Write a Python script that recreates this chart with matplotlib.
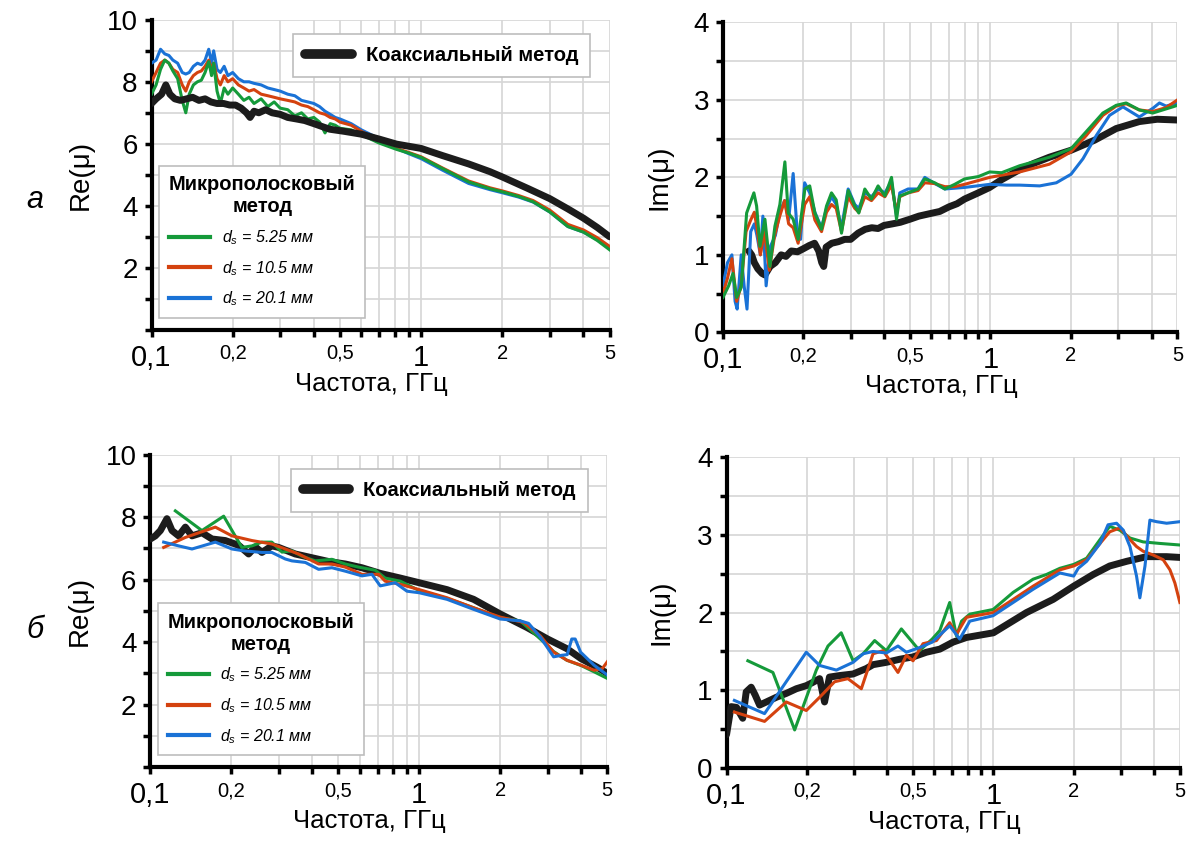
import numpy as np
import matplotlib
matplotlib.use("Agg")
import matplotlib.pyplot as plt
from matplotlib.ticker import FixedLocator, NullLocator

plt.rcParams['font.family'] = ['Liberation Sans', 'DejaVu Sans']
plt.rcParams['mathtext.fontset'] = 'custom'
plt.rcParams['mathtext.rm'] = 'Liberation Sans'
plt.rcParams['mathtext.it'] = 'Liberation Sans:italic'

# ---------------- (а) Re(mu) ----------------
a_re_coax_f = [0.100, 0.104, 0.109, 0.113, 0.117, 0.122, 0.128, 0.135, 0.142, 0.150, 0.158,
               0.166, 0.175, 0.185, 0.195, 0.205, 0.215, 0.225, 0.232, 0.240, 0.250, 0.265,
               0.280, 0.300, 0.320, 0.345, 0.370, 0.400, 0.458, 0.520, 0.600, 0.700, 0.810,
               0.900, 1.000, 1.200, 1.500, 1.800, 2.000, 2.500, 3.000, 3.500, 4.000, 4.500, 5.000]
a_re_coax = [7.30, 7.45, 7.60, 7.90, 7.60, 7.45, 7.40, 7.45, 7.50, 7.40, 7.45,
             7.35, 7.30, 7.30, 7.25, 7.25, 7.15, 7.00, 6.85, 7.05, 7.00, 7.10,
             7.00, 6.95, 6.85, 6.80, 6.75, 6.65, 6.47, 6.40, 6.31, 6.15, 5.99,
             5.92, 5.85, 5.62, 5.35, 5.10, 4.93, 4.55, 4.23, 3.90, 3.60, 3.30, 3.00]

a_re_f = [0.100, 0.104, 0.108, 0.112, 0.116, 0.120, 0.125, 0.130, 0.134, 0.138, 0.143,
          0.148, 0.153, 0.158, 0.163, 0.167, 0.170, 0.175, 0.180, 0.186, 0.192, 0.200,
          0.210, 0.220, 0.230, 0.240, 0.255, 0.270, 0.285, 0.300, 0.320, 0.340, 0.360,
          0.380, 0.400, 0.420, 0.440, 0.460, 0.480, 0.500, 0.550, 0.600, 0.650, 0.700,
          0.810, 0.900, 1.000, 1.200, 1.500, 1.800, 2.000, 2.300, 2.600, 3.000, 3.500,
          4.000, 4.500, 5.000]
a_re_blue = [8.60, 8.70, 9.05, 8.90, 8.85, 8.70, 8.60, 8.30, 8.25, 8.30, 8.50,
             8.60, 8.55, 8.70, 9.05, 8.60, 9.00, 8.40, 8.30, 8.50, 8.20, 8.30,
             8.10, 8.00, 8.00, 7.95, 7.90, 7.80, 7.75, 7.70, 7.60, 7.55, 7.40,
             7.35, 7.30, 7.20, 7.05, 6.95, 6.85, 6.80, 6.65, 6.45, 6.30, 6.15,
             5.85, 5.68, 5.52, 5.15, 4.72, 4.52, 4.42, 4.28, 4.12, 3.80, 3.33,
             3.15, 2.90, 2.62]
a_re_red = [8.00, 8.30, 8.60, 8.70, 8.60, 8.40, 8.30, 7.90, 7.70, 8.00, 8.20,
            8.30, 8.35, 8.50, 8.70, 8.40, 8.60, 8.10, 7.90, 8.20, 8.00, 8.10,
            7.90, 7.80, 7.70, 7.75, 7.60, 7.55, 7.50, 7.45, 7.40, 7.35, 7.25,
            7.20, 7.10, 7.00, 6.95, 6.85, 6.80, 6.70, 6.60, 6.40, 6.25, 6.12,
            5.85, 5.72, 5.58, 5.22, 4.80, 4.58, 4.48, 4.33, 4.17, 3.86, 3.40,
            3.22, 2.97, 2.69]
a_re_green = [7.60, 7.90, 8.40, 8.70, 8.60, 8.35, 8.10, 7.40, 7.00, 7.60, 7.90,
              8.00, 8.05, 8.30, 8.65, 8.20, 8.60, 7.70, 7.30, 7.80, 7.60, 7.80,
              7.60, 7.40, 7.50, 7.30, 7.45, 7.20, 7.35, 7.15, 7.10, 6.90, 7.00,
              6.80, 6.85, 6.70, 6.35, 6.65, 6.60, 6.50, 6.45, 6.30, 6.15, 6.02,
              5.82, 5.70, 5.56, 5.20, 4.77, 4.55, 4.45, 4.30, 4.13, 3.80, 3.33,
              3.15, 2.88, 2.58]

# ---------------- (а) Im(mu) ----------------
a_im_coax_f = [0.125, 0.128, 0.131, 0.135, 0.140, 0.1435, 0.150, 0.157, 0.165, 0.172, 0.180,
               0.190, 0.200, 0.210, 0.220, 0.228, 0.234, 0.238, 0.243, 0.255, 0.270, 0.285,
               0.300, 0.320, 0.340, 0.360, 0.380, 0.400, 0.430, 0.460, 0.500, 0.540, 0.590,
               0.646, 0.700, 0.750, 0.800, 0.900, 0.993, 1.100, 1.285, 1.450, 1.660, 2.000,
               2.450, 2.950, 3.600, 4.200, 5.000]
a_im_coax = [1.05, 1.00, 0.90, 0.82, 0.76, 0.74, 0.85, 0.90, 1.00, 0.98, 1.05,
             1.04, 1.08, 1.12, 1.15, 1.05, 0.90, 0.85, 1.10, 1.15, 1.17, 1.20,
             1.20, 1.28, 1.33, 1.35, 1.34, 1.38, 1.40, 1.42, 1.46, 1.50, 1.53,
             1.56, 1.62, 1.66, 1.72, 1.80, 1.87, 1.97, 2.10, 2.18, 2.26, 2.35,
             2.48, 2.63, 2.72, 2.75, 2.74]

a_im_green_f = [0.100, 0.105, 0.109, 0.1125, 0.117, 0.1226, 0.128, 0.1305, 0.1336, 0.1375, 0.1435,
                0.1498, 0.1564, 0.1632, 0.1704, 0.1754, 0.183, 0.191, 0.2024, 0.211, 0.2206,
                0.2336, 0.2438, 0.2545, 0.265, 0.2774, 0.2938, 0.311, 0.322, 0.339, 0.359,
                0.380, 0.403, 0.4266, 0.4454, 0.458, 0.492, 0.536, 0.568, 0.619, 0.675,
                0.735, 0.800, 0.900, 0.993, 1.100, 1.285, 1.450, 1.660, 2.000, 2.280,
                2.630, 2.950, 3.215, 3.600, 4.040, 4.800, 5.000]
a_im_green = [0.45, 0.60, 0.76, 0.45, 0.58, 1.54, 1.72, 1.80, 1.63, 1.11, 1.46,
              0.85, 1.37, 1.65, 2.20, 1.54, 1.46, 1.20, 1.85, 1.89, 1.54,
              1.33, 1.63, 1.80, 1.71, 1.28, 1.83, 1.63, 1.54, 1.85, 1.72,
              1.89, 1.76, 2.00, 1.46, 1.76, 1.80, 1.85, 1.98, 1.93, 1.85,
              1.91, 1.98, 2.01, 2.07, 2.06, 2.15, 2.20, 2.26, 2.37, 2.59,
              2.83, 2.93, 2.96, 2.87, 2.83, 2.91, 2.93]

a_im_red_f = [0.100, 0.104, 0.108, 0.1125, 0.117, 0.122, 0.127, 0.131, 0.134, 0.138, 0.143,
              0.149, 0.156, 0.163, 0.170, 0.176, 0.183, 0.191, 0.202, 0.211, 0.2206,
              0.2336, 0.2438, 0.2545, 0.265, 0.2774, 0.2938, 0.311, 0.322, 0.339, 0.359,
              0.380, 0.403, 0.4266, 0.4454, 0.458, 0.492, 0.536, 0.568, 0.619, 0.675,
              0.735, 0.800, 0.993, 1.285, 1.660, 2.000, 2.280, 2.630, 2.950, 3.215,
              3.600, 4.040, 4.530, 5.000]
a_im_red = [0.50, 0.70, 0.95, 0.40, 0.60, 1.30, 1.45, 1.55, 1.35, 1.00, 1.30,
            0.80, 1.25, 1.50, 1.70, 1.40, 1.35, 1.15, 1.65, 1.75, 1.45,
            1.30, 1.55, 1.65, 1.60, 1.30, 1.75, 1.60, 1.55, 1.75, 1.70,
            1.80, 1.75, 1.90, 1.55, 1.75, 1.80, 1.83, 1.93, 1.92, 1.88,
            1.88, 1.91, 2.00, 2.07, 2.17, 2.33, 2.54, 2.80, 2.92, 2.95,
            2.87, 2.85, 2.90, 3.00]

a_im_blue_f = [0.100, 0.104, 0.108, 0.111, 0.113, 0.117, 0.120, 0.123, 0.127, 0.131, 0.134,
               0.138, 0.141, 0.145, 0.150, 0.157, 0.163, 0.170, 0.176, 0.183, 0.189,
               0.195, 0.202, 0.211, 0.2206, 0.2336, 0.2438, 0.2545, 0.265, 0.2774, 0.2938,
               0.311, 0.322, 0.339, 0.359, 0.380, 0.403, 0.4266, 0.4454, 0.458, 0.492,
               0.536, 0.568, 0.619, 0.675, 0.735, 0.800, 0.993, 1.146, 1.285, 1.527,
               1.762, 2.000, 2.216, 2.486, 2.786, 3.125, 3.600, 4.040, 4.280, 4.530, 5.000]
a_im_blue = [0.60, 0.90, 1.00, 0.40, 0.30, 1.00, 0.60, 0.30, 1.30, 1.40, 1.25,
             1.00, 1.50, 0.60, 1.10, 1.25, 1.55, 1.70, 1.45, 2.05, 1.35,
             1.20, 1.93, 1.80, 1.55, 1.35, 1.60, 1.75, 1.65, 1.35, 1.85,
             1.65, 1.60, 1.80, 1.75, 1.85, 1.80, 1.95, 1.50, 1.80, 1.85,
             1.85, 2.00, 1.92, 1.85, 1.86, 1.87, 1.91, 1.90, 1.90, 1.89,
             1.93, 2.04, 2.24, 2.54, 2.80, 2.91, 2.78, 2.89, 2.96, 2.92, 2.96]

# ---------------- (б) Re(mu) ----------------
b_re_coax_f = [0.100, 0.1044, 0.109, 0.1153, 0.1204, 0.1274, 0.135, 0.1429, 0.1556, 0.1696,
               0.190, 0.213, 0.232, 0.2456, 0.260, 0.283, 0.300, 0.346, 0.399, 0.460,
               0.531, 0.612, 0.716, 0.850, 1.000, 1.268, 1.592, 2.000, 2.513, 3.000,
               3.540, 4.000, 4.580, 5.000]
b_re_coax = [7.30, 7.40, 7.57, 7.95, 7.57, 7.40, 7.68, 7.40, 7.50, 7.30,
             7.25, 7.10, 6.82, 7.05, 6.87, 7.08, 7.03, 6.82, 6.70, 6.58,
             6.50, 6.38, 6.20, 6.05, 5.90, 5.68, 5.37, 4.90, 4.47, 4.10,
             3.79, 3.47, 3.20, 3.00]

b_re_green_f = [0.1239, 0.1556, 0.1874, 0.219, 0.2388, 0.260, 0.283, 0.3088, 0.336, 0.3663,
                0.4107, 0.4735, 0.531, 0.595, 0.686, 0.747, 0.850, 1.000, 1.268, 1.592,
                2.000, 2.375, 2.820, 3.160, 3.540, 4.000, 4.470, 5.000]
b_re_green = [8.20, 7.57, 8.03, 7.03, 7.08, 7.20, 7.20, 6.88, 6.92, 6.75,
              6.60, 6.65, 6.50, 6.40, 6.30, 6.05, 5.95, 5.65, 5.40, 5.10,
              4.78, 4.68, 4.10, 3.70, 3.42, 3.25, 3.05, 2.84]

b_re_red_f = [0.1121, 0.135, 0.1745, 0.2012, 0.2388, 0.283, 0.3177, 0.356, 0.4224, 0.4735,
              0.531, 0.612, 0.706, 0.747, 0.850, 1.000, 1.268, 1.592, 2.000, 2.450,
              2.820, 3.160, 3.540, 4.000, 4.470, 4.790, 5.000]
b_re_red = [7.03, 7.35, 7.68, 7.40, 7.25, 7.14, 6.98, 6.82, 6.50, 6.50,
            6.40, 6.17, 6.17, 5.95, 5.85, 5.68, 5.42, 5.10, 4.80, 4.63,
            4.20, 3.68, 3.42, 3.26, 3.10, 3.15, 3.37]

b_re_blue_f = [0.1121, 0.1274, 0.1429, 0.1745, 0.2012, 0.223, 0.260, 0.283, 0.3177, 0.336,
               0.377, 0.4224, 0.4735, 0.531, 0.612, 0.667, 0.716, 0.814, 0.900, 1.000,
               1.268, 1.592, 2.000, 2.375, 2.550, 2.820, 3.160, 3.390, 3.550, 3.690,
               3.800, 3.980, 4.470, 5.000]
b_re_blue = [7.20, 7.08, 6.98, 7.20, 6.98, 6.92, 6.87, 6.87, 6.66, 6.60,
             6.55, 6.33, 6.38, 6.27, 6.12, 6.17, 5.80, 5.90, 5.63, 5.58,
             5.37, 5.05, 4.74, 4.68, 4.60, 4.16, 3.53, 3.58, 3.60, 4.10,
             4.10, 3.68, 3.26, 2.95]

# ---------------- (б) Im(mu) ----------------
b_im_coax_f = [0.100, 0.104, 0.109, 0.115, 0.1185, 0.1237, 0.128, 0.133, 0.141, 0.1536,
               0.1674, 0.1826, 0.199, 0.210, 0.2233, 0.233, 0.243, 0.2655, 0.298, 0.334,
               0.354, 0.397, 0.446, 0.500, 0.561, 0.630, 0.706, 0.793, 1.000, 1.330,
               1.675, 2.000, 2.366, 2.730, 3.160, 3.750, 4.460, 5.000]
b_im_coax = [0.43, 0.79, 0.78, 0.64, 0.98, 1.04, 0.94, 0.81, 0.85, 0.91,
             0.96, 1.02, 1.06, 1.10, 1.15, 0.85, 1.17, 1.19, 1.21, 1.28,
             1.33, 1.36, 1.40, 1.43, 1.49, 1.53, 1.62, 1.68, 1.74, 2.00,
             2.17, 2.34, 2.49, 2.60, 2.66, 2.72, 2.72, 2.71]

b_im_green_f = [0.1202, 0.1492, 0.180, 0.217, 0.240, 0.269, 0.298, 0.325, 0.359, 0.397,
                0.452, 0.529, 0.590, 0.630, 0.686, 0.727, 0.760, 0.816, 0.9975, 1.186,
                1.409, 1.580, 1.775, 2.000, 2.236, 2.510, 2.730, 2.980, 3.250, 3.640,
                4.210, 5.000]
b_im_green = [1.38, 1.23, 0.49, 1.26, 1.57, 1.74, 1.38, 1.47, 1.64, 1.51,
              1.79, 1.51, 1.66, 1.77, 2.13, 1.70, 1.89, 1.98, 2.04, 2.26,
              2.43, 2.49, 2.57, 2.62, 2.70, 2.94, 3.11, 3.06, 2.96, 2.91,
              2.89, 2.87]

b_im_red_f = [0.107, 0.1388, 0.1674, 0.199, 0.2233, 0.254, 0.285, 0.320, 0.354, 0.386,
              0.439, 0.472, 0.500, 0.545, 0.612, 0.686, 0.727, 0.793, 0.9975, 1.186,
              1.409, 1.775, 2.000, 2.236, 2.510, 2.730, 2.980, 3.250, 3.440, 3.640,
              3.980, 4.330, 4.590, 4.790, 5.000]
b_im_red = [0.72, 0.60, 0.85, 0.74, 0.91, 1.11, 1.15, 1.02, 1.47, 1.51,
            1.23, 1.45, 1.38, 1.60, 1.64, 1.87, 1.72, 1.94, 2.00, 2.17,
            2.34, 2.55, 2.60, 2.68, 2.89, 3.04, 3.09, 2.94, 2.85, 2.79,
            2.74, 2.68, 2.55, 2.38, 2.13]

b_im_blue_f = [0.107, 0.1388, 0.199, 0.2233, 0.258, 0.298, 0.325, 0.354, 0.397, 0.439,
               0.472, 0.529, 0.590, 0.686, 0.748, 0.816, 0.9975, 1.186, 1.409, 1.775,
               2.000, 2.080, 2.236, 2.510, 2.690, 2.895, 3.070, 3.250, 3.440, 3.540,
               3.700, 3.860, 4.090, 4.460, 5.000]
b_im_blue = [0.87, 0.70, 1.49, 1.32, 1.26, 1.36, 1.47, 1.50, 1.48, 1.57,
             1.49, 1.55, 1.62, 1.83, 1.66, 1.89, 1.96, 2.13, 2.30, 2.51,
             2.47, 2.57, 2.66, 2.89, 3.13, 3.15, 3.06, 2.85, 2.47, 2.19,
             2.60, 3.19, 3.17, 3.15, 3.17]

labels_ds = ['$d_s$ = 5.25 мм', '$d_s$ = 10.5 мм', '$d_s$ = 20.1 мм']
c_green, c_red, c_blue, c_black = '#159a3a', '#d4420f', '#1a72d6', '#1c1c1c'

x_ticks = [0.1, 0.2, 0.3, 0.4, 0.5, 0.6, 0.7, 0.8, 0.9, 1, 2, 3, 4, 5]
x_text = {0.1: '0,1', 0.2: '0,2', 0.5: '0,5', 1: '1', 2: '2', 5: '5'}


def setup(ax, ymax, ystep, ylab_step, ylabel):
    ax.set_xscale('log')
    ax.set_xlim(0.1, 5)
    ax.set_ylim(0, ymax)
    ax.xaxis.set_major_locator(FixedLocator(x_ticks))
    ax.xaxis.set_minor_locator(NullLocator())
    ax.set_xticklabels([x_text.get(t, '') for t in x_ticks])
    for t, lab in zip(x_ticks, ax.get_xticklabels()):
        lab.set_fontsize(21 if t in (0.1, 1) else 14.5)
    yt = np.arange(0, ymax + ystep / 2, ystep)
    ax.set_yticks(yt)
    ylabs = []
    for v in yt:
        if v == 0 and ylab_step == 2:
            ylabs.append('')
        elif abs(v / ylab_step - round(v / ylab_step)) < 1e-6:
            ylabs.append('%d' % v)
        else:
            ylabs.append('')
    ax.set_yticklabels(ylabs, fontsize=20)
    ax.tick_params(axis='both', direction='out', length=5, width=2.5, color='black')
    ax.tick_params(axis='x', pad=5)
    ax.tick_params(axis='y', pad=5)
    for s in ('top', 'right'):
        ax.spines[s].set_visible(False)
    for s in ('left', 'bottom'):
        ax.spines[s].set_linewidth(3)
    ax.grid(True, color='#d6d6d6', lw=1.2)
    ax.set_axisbelow(True)
    ax.set_ylabel(ylabel, fontsize=20)
    ax.set_xlabel('Частота, ГГц', fontsize=18.5)
    ax.xaxis.set_label_coords(0.48, -0.135)


fig = plt.figure(figsize=(11.93, 8.61), dpi=100)
ax1 = fig.add_axes([0.127, 0.617, 0.384, 0.360])
ax2 = fig.add_axes([0.606, 0.614, 0.381, 0.360])
ax3 = fig.add_axes([0.126, 0.109, 0.383, 0.363])
ax4 = fig.add_axes([0.609, 0.108, 0.380, 0.361])

setup(ax1, 10, 1, 2, 'Re(μ)')
setup(ax2, 4, 0.5, 1, 'Im(μ)')
setup(ax3, 10, 1, 2, 'Re(μ)')
setup(ax4, 4, 0.5, 1, 'Im(μ)')
ax1.yaxis.set_label_coords(-0.125, 0.5)
ax3.yaxis.set_label_coords(-0.125, 0.5)
ax2.yaxis.set_label_coords(-0.112, 0.5)
ax4.yaxis.set_label_coords(-0.115, 0.5)

lw_c, lw_k = 2.2, 5

# Re panels: coaxial curve drawn over the microstrip ones
ax1.plot(a_re_f, a_re_blue, color=c_blue, lw=lw_c, zorder=3)
ax1.plot(a_re_f, a_re_red, color=c_red, lw=lw_c, zorder=3)
ax1.plot(a_re_f, a_re_green, color=c_green, lw=lw_c, zorder=3)
ax1.plot(a_re_coax_f, a_re_coax, color=c_black, lw=lw_k, zorder=4, solid_capstyle='round')

ax3.plot(b_re_coax_f, b_re_coax, color=c_black, lw=lw_k, zorder=3, solid_capstyle='round')
ax3.plot(b_re_green_f, b_re_green, color=c_green, lw=lw_c, zorder=4)
ax3.plot(b_re_red_f, b_re_red, color=c_red, lw=lw_c, zorder=4)
ax3.plot(b_re_blue_f, b_re_blue, color=c_blue, lw=lw_c, zorder=4)

ax2.plot(a_im_coax_f, a_im_coax, color=c_black, lw=lw_k, zorder=3, solid_capstyle='round')
ax2.plot(a_im_blue_f, a_im_blue, color=c_blue, lw=lw_c, zorder=4)
ax2.plot(a_im_red_f, a_im_red, color=c_red, lw=lw_c, zorder=4)
ax2.plot(a_im_green_f, a_im_green, color=c_green, lw=lw_c, zorder=4)

ax4.plot(b_im_coax_f, b_im_coax, color=c_black, lw=lw_k, zorder=3, solid_capstyle='round')
ax4.plot(b_im_green_f, b_im_green, color=c_green, lw=lw_c, zorder=4)
ax4.plot(b_im_red_f, b_im_red, color=c_red, lw=lw_c, zorder=4)
ax4.plot(b_im_blue_f, b_im_blue, color=c_blue, lw=lw_c, zorder=4)

# two legends in each Re panel
for ax in (ax1, ax3):
    h0, = ax.plot([], [], color=c_black, lw=7, solid_capstyle='round')
    leg1 = ax.legend([h0], ['Коаксиальный метод'], loc='upper right',
                     bbox_to_anchor=(0.958, 0.955), borderaxespad=0, fancybox=False,
                     edgecolor='#bdbdbd', framealpha=1, handlelength=2.3, handletextpad=0.7,
                     prop={'weight': 'bold', 'size': 14.5}, borderpad=0.6)
    leg1.get_frame().set_linewidth(1.2)
    ax.add_artist(leg1)
    hs = [ax.plot([], [], color=c, lw=3)[0] for c in (c_green, c_red, c_blue)]
    leg2 = ax.legend(hs, labels_ds, loc='lower left', bbox_to_anchor=(0.017, 0.038),
                     borderaxespad=0, title='Микрополосковый\nметод', fancybox=False,
                     edgecolor='#bdbdbd', framealpha=1, handlelength=2.6, handletextpad=0.7,
                     prop={'style': 'italic', 'size': 11.5}, alignment='left',
                     title_fontproperties={'weight': 'bold', 'size': 14.5}, borderpad=0.6,
                     labelspacing=0.75)
    leg2.get_title().set_multialignment('center')
    leg2.get_frame().set_linewidth(1.2)

fig.text(0.029, 0.768, 'а', fontsize=22, style='italic', ha='center', va='center')
fig.text(0.029, 0.268, 'б', fontsize=22, style='italic', ha='center', va='center')

fig.savefig('out.png', dpi=100)
